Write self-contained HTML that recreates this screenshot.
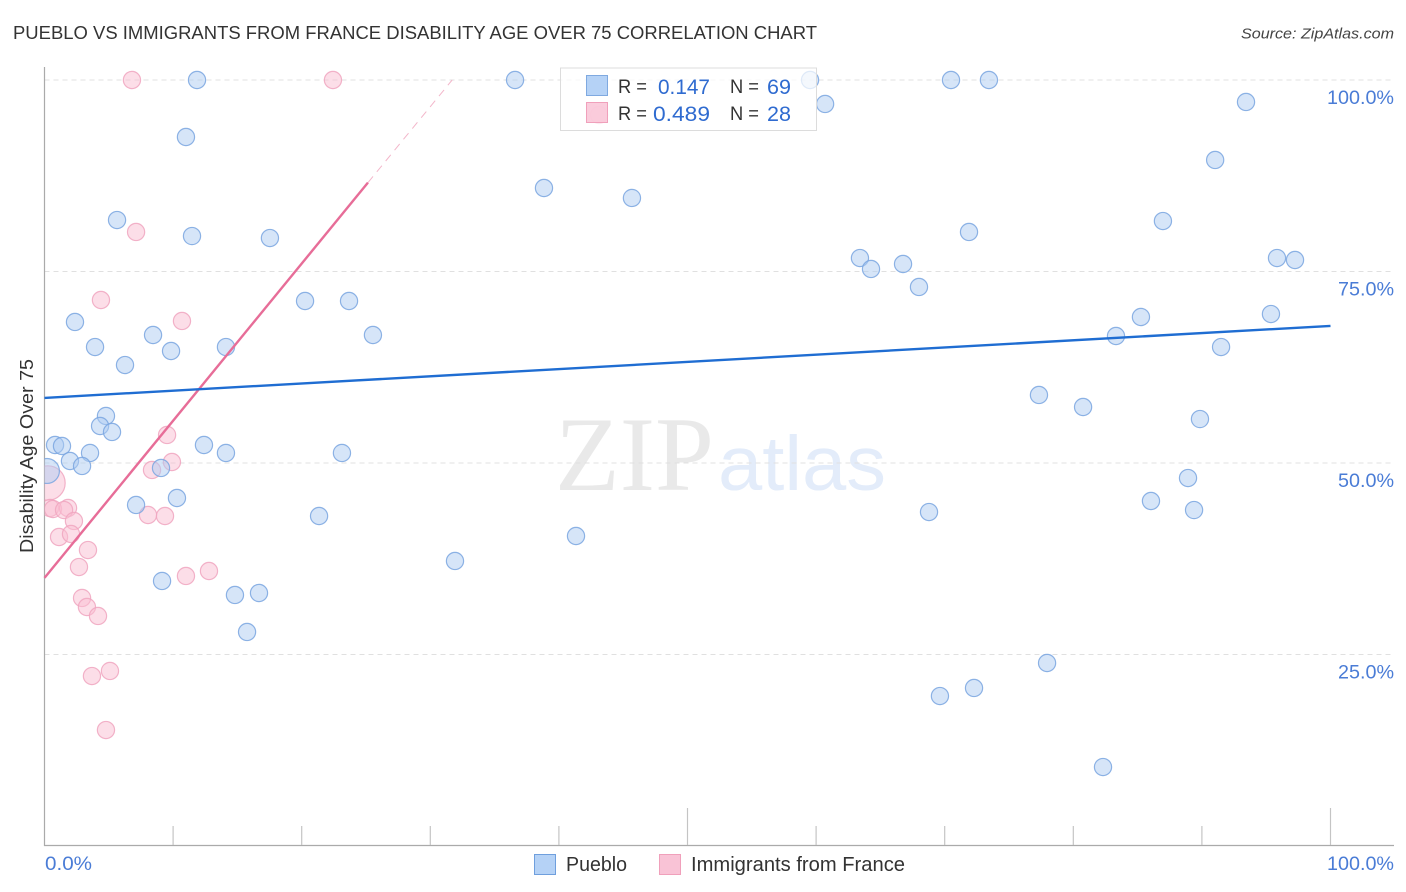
<!DOCTYPE html>
<html lang="en">
<head>
<meta charset="utf-8">
<title>Pueblo vs Immigrants from France Disability Age Over 75 Correlation Chart</title>
<style>
html,body{margin:0;padding:0;background:#fff;width:1406px;height:892px;overflow:hidden}
svg{display:block;font-family:"Liberation Sans",sans-serif}
</style>
</head>
<body>
<svg id="chart" width="1406" height="892" viewBox="0 0 1406 892" xmlns="http://www.w3.org/2000/svg">
  <defs>
    <clipPath id="plot-clip"><rect x="44.5" y="60" width="1350" height="786"/></clipPath>
  </defs>
  <text x="13" y="39" font-size="18" fill="#333" textLength="804" lengthAdjust="spacingAndGlyphs">PUEBLO VS IMMIGRANTS FROM FRANCE DISABILITY AGE OVER 75 CORRELATION CHART</text>
  <text x="1394" y="38.5" font-size="15" font-style="italic" fill="#444" text-anchor="end" textLength="153" lengthAdjust="spacingAndGlyphs">Source: ZipAtlas.com</text>

  <g>
    <text x="555" y="490" font-family="'Liberation Serif',serif" font-size="106" fill="#e9e9e9" textLength="159" lengthAdjust="spacingAndGlyphs">ZIP</text>
    <text x="718" y="490" font-size="77" fill="#e3ecfa" textLength="168" lengthAdjust="spacingAndGlyphs">atlas</text>
  </g>

  <g id="grid"></g>
  <g id="axes"></g>
  <g id="points" clip-path="url(#plot-clip)"></g>
  <g id="trends"></g>

  <g>
    <rect x="560.5" y="68" width="256" height="62.5" fill="#fff" fill-opacity="0.72" stroke="#dcdcdc" stroke-width="1"/>
    <rect x="586.5" y="75.5" width="21" height="20" fill="#b5d2f6" stroke="#7fa9e0"/>
    <text x="618" y="93" font-size="19" fill="#333" textLength="29" lengthAdjust="spacingAndGlyphs">R =</text>
    <text x="710" y="94" font-size="21" fill="#2f6bd0" text-anchor="end" textLength="52" lengthAdjust="spacingAndGlyphs">0.147</text>
    <text x="730" y="93" font-size="19" fill="#333" textLength="29" lengthAdjust="spacingAndGlyphs">N =</text>
    <text x="791" y="94" font-size="21" fill="#2f6bd0" text-anchor="end" textLength="24" lengthAdjust="spacingAndGlyphs">69</text>
    <rect x="586.5" y="102.5" width="21" height="20" fill="#f9c3d6" fill-opacity="0.85" stroke="#f0a0bb"/>
    <text x="618" y="120" font-size="19" fill="#333" textLength="29" lengthAdjust="spacingAndGlyphs">R =</text>
    <text x="710" y="121" font-size="21" fill="#2f6bd0" text-anchor="end" textLength="57" lengthAdjust="spacingAndGlyphs">0.489</text>
    <text x="730" y="120" font-size="19" fill="#333" textLength="29" lengthAdjust="spacingAndGlyphs">N =</text>
    <text x="791" y="121" font-size="21" fill="#2f6bd0" text-anchor="end" textLength="24" lengthAdjust="spacingAndGlyphs">28</text>
  </g>

  <text transform="translate(33,456) rotate(-90)" font-size="18.5" fill="#333" text-anchor="middle" textLength="194" lengthAdjust="spacingAndGlyphs">Disability Age Over 75</text>

  <g>
    <rect x="534.5" y="854.5" width="21" height="20" fill="#b5d2f6" stroke="#6f9fdd"/>
    <text x="566" y="871" font-size="20" fill="#333" textLength="61" lengthAdjust="spacingAndGlyphs">Pueblo</text>
    <rect x="659.5" y="854.5" width="21" height="20" fill="#f9c3d6" stroke="#f0a0bb"/>
    <text x="691" y="871" font-size="20" fill="#333" textLength="214" lengthAdjust="spacingAndGlyphs">Immigrants from France</text>
  </g>
</svg>
<script>
const yTickValues = [100, 75, 50, 25];
const yTickLabels = ['100.0%', '75.0%', '50.0%', '25.0%'];
const xTickValues = [0, 10, 20, 30, 40, 50, 60, 70, 80, 90, 100];
const xEndValues = [0, 100];
const xEndLabels = ['0.0%', '100.0%'];

const puebloX = [0.19, 11.86, 36.59, 59.53, 70.49, 73.44, 60.7, 93.43, 11, 91.03, 38.84, 45.68, 5.64, 86.97, 11.47, 17.53, 71.89, 63.41, 64.27, 66.76, 95.84, 97.24, 68, 20.26, 23.68, 95.37, 85.26, 2.37, 25.54, 8.44, 83.32, 3.93, 9.84, 14.11, 91.49, 6.26, 77.33, 80.76, 4.78, 4.32, 5.25, 89.85, 0.82, 1.36, 12.4, 3.54, 14.11, 23.13, 1.98, 2.92, 9.06, 88.92, 10.3, 7.12, 86.04, 89.39, 21.35, 68.78, 41.33, 31.92, 9.14, 14.81, 16.68, 15.75, 77.96, 69.63, 72.28, 82.31];
const puebloY = [48.96, 100, 100, 100, 100, 100, 96.87, 97.13, 92.56, 89.56, 85.9, 84.6, 81.72, 81.59, 79.63, 79.37, 80.16, 76.76, 75.33, 75.98, 76.76, 76.5, 72.98, 71.15, 71.15, 69.45, 69.06, 68.41, 66.71, 66.71, 66.58, 65.14, 64.62, 65.14, 65.14, 62.79, 58.88, 57.31, 56.14, 54.83, 54.05, 55.74, 52.35, 52.22, 52.35, 51.31, 51.31, 51.31, 50.26, 49.61, 49.35, 48.04, 45.43, 44.52, 45.04, 43.86, 43.08, 43.6, 40.47, 37.21, 34.6, 32.77, 33.03, 27.94, 23.89, 19.58, 20.63, 10.31];
const puebloWeights = [2.1];

const franceX = [0.27, 6.8, 22.43, 7.12, 4.39, 10.69, 43.12, 9.53, 9.91, 8.36, 0.43, 0.66, 1.83, 1.52, 2.29, 1.13, 2.06, 3.38, 8.05, 9.37, 2.68, 11, 12.79, 2.92, 3.3, 4.16, 5.09, 3.69, 4.78];
const franceY = [47.39, 100, 100, 80.16, 71.28, 68.54, 95.43, 53.66, 50.13, 49.09, 44.13, 43.99, 44.13, 43.86, 42.43, 40.34, 40.73, 38.64, 43.21, 43.08, 36.42, 35.25, 35.9, 32.38, 31.2, 30.03, 22.85, 22.19, 15.14];
const franceWeights = [4];

const puebloTrendX = [0, 100];
const puebloTrendY = [58.5, 67.9];
const franceTrendSolidX = [0, 25.15];
const franceTrendSolidY = [35, 86.6];
const franceTrendDashX = [25.15, 31.7];
const franceTrendDashY = [86.6, 100];

const NS = 'http://www.w3.org/2000/svg';
const xScale = v => 44.5 + v * 12.86;
const yScale = v => 846 - v * 7.66;
const make = (parent, tag) => parent.appendChild(document.createElementNS(NS, tag));

const gridG = document.getElementById('grid');
const axesG = document.getElementById('axes');
const pointsG = document.getElementById('points');
const trendsG = document.getElementById('trends');

yTickValues.forEach((v, i) => {
  const g = make(gridG, 'line');
  
  
  g.setAttribute('x1', 44.5);
  g.setAttribute('x2', 1394);
  g.setAttribute('y1', yScale(v));
  g.setAttribute('y2', yScale(v));
  g.setAttribute('stroke', '#e0e0e0');
  g.setAttribute('stroke-width', 1);
  g.setAttribute('stroke-dasharray', '5 4');
  const t = make(axesG, 'text');
  
  
  t.setAttribute('x', 1394);
  t.setAttribute('y', yScale(v) + 24);
  t.setAttribute('font-size', 19);
  t.setAttribute('fill', '#4a7cd6');
  t.setAttribute('text-anchor', 'end');
  t.setAttribute('textLength', yTickLabels[i].length === 6 ? 67 : 56);
  t.setAttribute('lengthAdjust', 'spacingAndGlyphs');
  t.textContent = yTickLabels[i];
});

const yAxis = make(axesG, 'line');


yAxis.setAttribute('x1', 44.5);
yAxis.setAttribute('x2', 44.5);
yAxis.setAttribute('y1', 67);
yAxis.setAttribute('y2', 846);
yAxis.setAttribute('stroke', '#aaa');
yAxis.setAttribute('stroke-width', 1.2);

const xAxis = make(axesG, 'line');


xAxis.setAttribute('x1', 44);
xAxis.setAttribute('x2', 1394);
xAxis.setAttribute('y1', 845.5);
xAxis.setAttribute('y2', 845.5);
xAxis.setAttribute('stroke', '#aaa');
xAxis.setAttribute('stroke-width', 1.2);

xTickValues.forEach(v => {
  if (v === 0) return;
  const major = v === 50 || v === 100;
  const l = make(axesG, 'line');
  
  
  l.setAttribute('x1', xScale(v));
  l.setAttribute('x2', xScale(v));
  l.setAttribute('y1', major ? 808 : 826);
  l.setAttribute('y2', 845);
  l.setAttribute('stroke', '#c4c4c4');
  l.setAttribute('stroke-width', 1.2);
});

xEndValues.forEach((v, i) => {
  const t = make(axesG, 'text');
  
  
  t.setAttribute('x', v === 0 ? 45 : 1394);
  t.setAttribute('y', 870);
  t.setAttribute('font-size', 19);
  t.setAttribute('fill', '#4a7cd6');
  t.setAttribute('text-anchor', v === 0 ? 'start' : 'end');
  t.setAttribute('textLength', v === 0 ? 47 : 67);
  t.setAttribute('lengthAdjust', 'spacingAndGlyphs');
  t.textContent = xEndLabels[i];
});

function drawPoints(xs, ys, weights, fill, stroke, name) {
  xs.forEach((x, i) => {
    const c = make(pointsG, 'circle');
    
    
    c.setAttribute('cx', xScale(x));
    c.setAttribute('cy', yScale(ys[i]));
    c.setAttribute('r', 8.6 * Math.sqrt(weights[i] || 1));
    c.setAttribute('fill', fill);
    c.setAttribute('fill-opacity', 0.5);
    c.setAttribute('stroke', stroke);
    c.setAttribute('stroke-opacity', 0.85);
    c.setAttribute('stroke-width', 1.2);
  });
}
drawPoints(franceX, franceY, franceWeights, '#f9bdd1', '#f0a6bf', 'france-point');
drawPoints(puebloX, puebloY, puebloWeights, '#aecbf2', '#7aa6e0', 'pueblo-point');

function drawTrend(xs, ys, color, width, dash, name) {
  const l = make(trendsG, 'line');
  
  
  l.setAttribute('x1', xScale(xs[0]));
  l.setAttribute('y1', yScale(ys[0]));
  l.setAttribute('x2', xScale(xs[1]));
  l.setAttribute('y2', yScale(ys[1]));
  l.setAttribute('stroke', color);
  l.setAttribute('stroke-width', width);
  if (dash) l.setAttribute('stroke-dasharray', dash);
}
drawTrend(franceTrendDashX, franceTrendDashY, '#f3b6ca', 1, '8 6', 'france-trend-extension');
drawTrend(franceTrendSolidX, franceTrendSolidY, '#e76d98', 2.4, null, 'france-trend-line');
drawTrend(puebloTrendX, puebloTrendY, '#1f6dd2', 2.4, null, 'pueblo-trend-line');
</script>
</body>
</html>
